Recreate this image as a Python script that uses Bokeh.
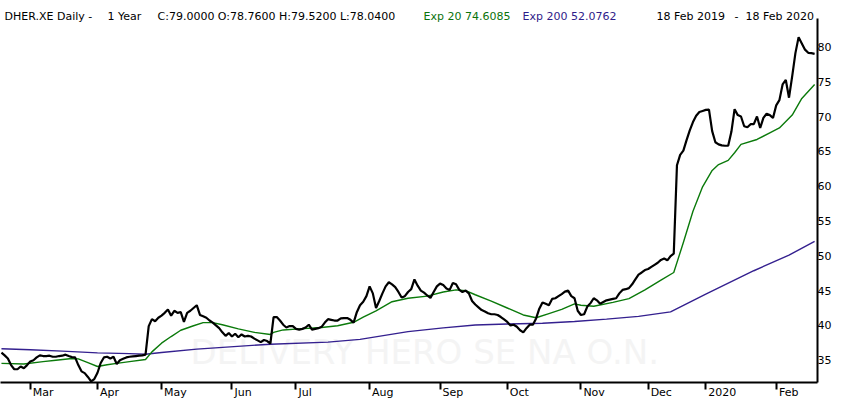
from bokeh.plotting import figure
from bokeh.models import Range1d, FixedTicker, Label
from bokeh.embed import file_html
from bokeh.resources import INLINE

# ---------------- data (x = trading-day index since 18 Feb 2019) ----------------
month_day = [9, 30, 50, 72, 92, 115, 137, 158, 181, 202, 220, 242]
month_lbl = ["Mar", "Apr", "May", "Jun", "Jul", "Aug", "Sep", "Oct", "Nov", "Dec", "2020", "Feb"]

close = [
    36.1, 35.7, 35.25, 34.3, 33.7, 33.7, 34.1, 33.85, 34.3, 34.8,
    35.0, 35.4, 35.7, 35.6, 35.6, 35.65, 35.5, 35.5, 35.6, 35.65,
    35.8, 35.6, 35.45, 35.4, 34.3, 33.4, 33.15, 32.6, 31.95, 32.3,
    33.2, 34.6, 35.4, 35.5, 35.25, 35.5, 34.45, 35.0, 35.2, 35.4,
    35.5, 35.55, 35.6, 35.65, 35.7, 35.8, 39.9, 40.9, 40.6, 41.1,
    41.4, 41.8, 42.3, 41.4, 42.1, 41.8, 41.9, 40.5, 41.8, 42.1,
    42.5, 42.9, 41.5, 41.3, 41.1, 40.7, 40.4, 40.0, 39.6, 39.0,
    38.5, 38.9, 38.4, 38.8, 38.3, 38.7, 38.4, 38.5, 38.4, 38.1,
    37.85, 37.6, 37.9, 37.75, 37.4, 41.2, 41.2, 40.7, 40.1, 39.7,
    39.9, 39.9, 39.5, 39.4, 39.5, 39.7, 40.1, 39.4, 39.5, 39.6,
    39.8, 40.4, 40.9, 40.8, 40.7, 40.7, 41.0, 41.05, 41.05, 40.8,
    40.4, 41.9, 42.9, 43.4, 44.2, 45.6, 44.6, 42.5, 43.5, 44.6,
    45.6, 46.2, 45.9, 45.5, 44.8, 44.0, 44.2, 44.8, 45.2, 46.6,
    45.7, 45.0, 44.7, 44.3, 43.95, 44.8, 45.6, 46.0, 45.8, 45.3,
    45.1, 46.1, 45.9, 45.1, 44.8, 45.0, 44.6, 43.5, 43.0, 42.6,
    42.2, 42.0, 41.75, 41.6, 41.6, 41.5, 41.2, 40.85, 40.5, 40.0,
    40.1, 39.8, 39.3, 39.0, 39.6, 40.1, 40.1, 41.0, 42.4, 43.3,
    43.1, 42.9, 43.8, 43.9, 44.2, 44.5, 44.85, 45.0, 44.2, 43.9,
    42.1, 41.5, 41.6, 42.7, 43.2, 43.9, 43.6, 43.1, 43.35, 43.6,
    43.7, 43.8, 43.9, 44.6, 45.1, 45.2, 45.35, 45.9, 46.6, 47.3,
    47.6, 47.95, 48.1, 48.4, 48.7, 49.0, 49.4, 49.6, 49.35, 49.95,
    50.3, 63.0, 64.5, 65.1, 66.6, 68.0, 69.2, 70.1, 70.65, 70.8,
    70.95, 71.0, 67.9, 66.3, 66.0, 65.85, 65.8, 65.8, 67.8, 71.05,
    70.2, 70.0, 68.6, 68.45, 68.9, 68.9, 70.0, 68.35, 69.8, 70.4,
    70.2, 69.8, 71.6, 72.35, 74.6, 75.25, 72.7, 75.8, 79.1, 81.4,
    80.5, 79.6, 79.15, 79.1, 79.0,
]

ema20_day = [0, 7, 13, 17, 22, 24, 27, 30, 33, 36,
             40, 45, 47, 50, 53, 56, 60, 63, 66, 69,
             74, 79, 84, 85, 88, 93, 100, 105, 110, 113,
             117, 122, 127, 133, 138, 142, 145, 148, 153, 158,
             163, 167, 171, 175, 179, 181, 185, 191, 196, 201,
             206, 210, 213, 216, 219, 222, 224, 227, 229, 231,
             236, 240, 243, 247, 250, 254]
ema20 = [34.55, 34.45, 34.8, 35.0, 35.25, 35.2, 34.65, 34.1, 34.35, 34.55,
         34.8, 35.1, 36.2, 37.45, 38.4, 39.3, 39.95, 40.4, 40.4, 40.1,
         39.5, 39.0, 38.7, 39.0, 39.35, 39.5, 39.7, 39.95, 40.45, 41.2,
         42.1, 43.4, 43.9, 44.2, 44.8, 45.1, 45.0, 44.4, 43.5, 42.5,
         41.5, 41.1, 41.7, 42.3, 43.1, 42.9, 42.75, 43.3, 43.85, 45.1,
         46.5, 47.6, 51.9, 56.4, 59.9, 62.25, 63.1, 63.7, 64.8, 66.0,
         66.7, 67.65, 68.35, 70.2, 72.6, 74.6]

ema200_day = [0, 9, 19, 30, 40, 45, 50, 61, 84, 102, 112, 127,
              138, 148, 158, 169, 179, 189, 199, 209, 220, 235, 246, 254]
ema200 = [36.65, 36.5, 36.3, 36.05, 35.95, 35.85, 36.1, 36.6, 37.3, 37.6, 38.0, 39.1,
          39.65, 40.05, 40.2, 40.3, 40.55, 40.9, 41.3, 41.95, 44.5, 47.85, 50.1, 52.08]

y_ticks = [35, 40, 45, 50, 55, 60, 65, 70, 75, 80]

title_parts = [
    ("DHER.XE Daily -", 4, "#000000"),
    ("1 Year", 107, "#000000"),
    ("C:79.0000 O:78.7600 H:79.5200 L:78.0400", 157, "#000000"),
    ("Exp 20 74.6085", 423, "#0b730b"),
    ("Exp 200 52.0762", 522, "#2f1c8a"),
    ("18 Feb 2019", 656, "#000000"),
    ("-", 734, "#000000"),
    ("18 Feb 2020", 745, "#000000"),
]
watermark = "DELIVERY HERO SE NA O.N."

# ---------------- layout ----------------
X0, X1 = -0.3, 254.9
Y0, Y_AXIS_TOP = 31.8, 84.13    # visible price span of the axis
Y1 = 86.66                      # head room for the header line
PX_Y = 384.0 / (Y1 - Y0)        # approx. pixels per price unit
FONT = "DejaVu Sans"

p = figure(width=834, height=401, output_backend="svg", toolbar_location=None,
           x_range=Range1d(X0, X1), y_range=Range1d(Y0, Y1),
           y_axis_location="right",
           min_border_left=0, min_border_right=0, min_border_top=0, min_border_bottom=0,
           background_fill_color="white", border_fill_color="white",
           outline_line_color=None)
p.grid.visible = False

# label centres so that each month label starts just right of its tick
cw = {"M": .863, "a": .613, "r": .411, "A": .684, "p": .635, "y": .592, "J": .295,
      "u": .634, "n": .634, "l": .278, "g": .635, "S": .635, "e": .615, "O": .787,
      "c": .550, "t": .392, "N": .748, "o": .612, "v": .592, "D": .770, "2": .636,
      "0": .636, "F": .575, "b": .635}
px_per_day = 818.0 / (X1 - X0)
centers = [round(d + (sum(cw[c] for c in l) * 11 / 2 + 2.5) / px_per_day, 3)
           for d, l in zip(month_day, month_lbl)]

xa = p.xaxis[0]
xa.ticker = FixedTicker(ticks=centers, minor_ticks=month_day)
xa.major_label_overrides = {c: l for c, l in zip(centers, month_lbl)}
xa.major_tick_out = 0
xa.major_tick_in = 0
xa.major_tick_line_color = None
xa.minor_tick_out = 0
xa.minor_tick_in = -7          # tick drawn outward, beside the label
xa.minor_tick_line_width = 2
xa.minor_tick_line_color = "black"
xa.axis_line_width = 2
xa.axis_line_color = "black"
xa.major_label_standoff = 3
xa.major_label_text_font = FONT
xa.major_label_text_font_size = "11px"
xa.major_label_text_color = "black"

ya = p.yaxis[0]
ya.ticker = FixedTicker(ticks=y_ticks)
ya.bounds = (Y0, Y_AXIS_TOP)
ya.major_tick_out = 0
ya.major_tick_in = 0
ya.minor_tick_line_color = None
ya.axis_line_width = 2
ya.axis_line_color = "black"
ya.major_label_standoff = 0
ya.major_label_text_font = FONT
ya.major_label_text_font_size = "11px"
ya.major_label_text_color = "black"

# watermark
p.add_layout(Label(x=190, y=36.2, x_units="screen", y_units="data", text=watermark,
                   text_font=FONT, text_font_size="34px", text_color="#f4f4f4",
                   text_baseline="middle", level="underlay"))

# series
days = list(range(len(close)))
p.line(ema200_day, ema200, line_color="#34208f", line_width=1.4)
p.line(ema20_day, ema20, line_color="#0b7a0b", line_width=1.4)
p.line(days, close, line_color="black", line_width=2.2)

# header texts
for txt, xs, col in title_parts:
    p.add_layout(Label(x=xs, y=Y_AXIS_TOP + 2.0 / PX_Y, x_units="screen", y_units="data",
                       text=txt, text_font=FONT, text_font_size="11px", text_color=col,
                       text_baseline="alphabetic"))

open("out.html", "w").write(file_html(p, INLINE))
